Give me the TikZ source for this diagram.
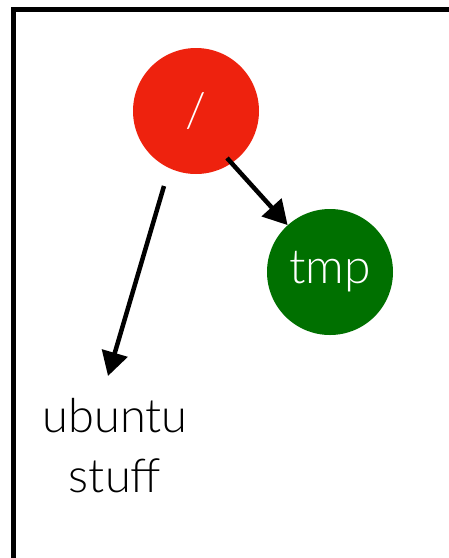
\documentclass[tikz,border=0pt]{standalone}
\usepackage{fontspec}
\setmainfont{Lato}[UprightFont = * Light]
\usetikzlibrary{arrows.meta}
\definecolor{rootred}{RGB}{238,34,14}
\definecolor{tmpgreen}{RGB}{0,112,0}
\begin{document}
\begin{tikzpicture}[x=1pt,y=-1pt,
  dirnode/.style={circle,minimum size=126pt,inner sep=0pt,text=white,font=\fontsize{48}{56}\selectfont},
  conn/.style={line width=4.5pt,-{Triangle[length=24pt,width=26pt]}},
  lbl/.style={align=center,font=\fontsize{47}{60}\selectfont,inner sep=0pt}]
\useasboundingbox (0,0) rectangle (449,558);
\draw[line width=5pt] (13.5,600) -- (13.5,9.5) -- (480,9.5);
\node[dirnode,fill=rootred] (root) at (196,111) {/};
\node[dirnode,fill=tmpgreen] (tmp) at (330,272) {tmp};
\node[lbl] (ubuntu) at (115,446) {ubuntu\\stuff};
\coordinate (a1s) at (227,158);
\coordinate (a2s) at (164,186);
\coordinate (a2e) at (108,376);
\draw[conn] (a1s) -- (tmp);
\draw[conn] (a2s) -- (a2e);
\end{tikzpicture}
\end{document}
